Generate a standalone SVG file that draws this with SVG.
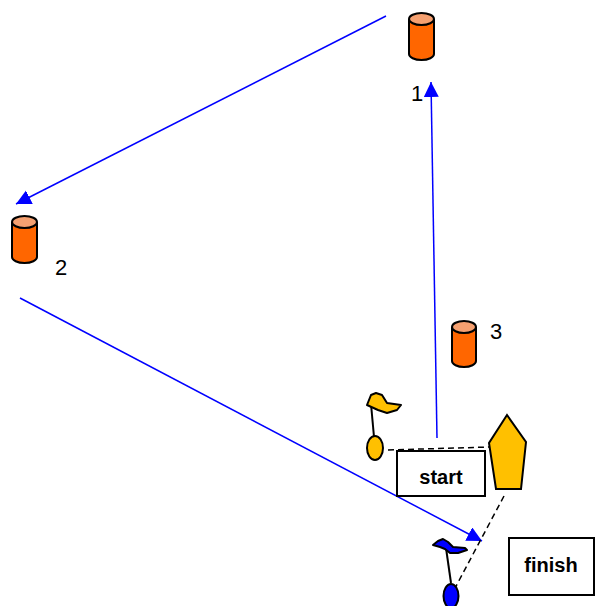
<svg xmlns="http://www.w3.org/2000/svg" width="596" height="606" viewBox="0 0 596 606">
<defs>
<style>
.cyl{fill:#FF6600;stroke:#000;stroke-width:2}
.cyltop{fill:#F5A070;stroke:#000;stroke-width:2}
.lbl{font-family:"Liberation Sans",Arial,sans-serif;font-size:22px;fill:#000}
.btxt{font-family:"Liberation Sans",Arial,sans-serif;font-size:20px;font-weight:bold;fill:#000;text-anchor:middle}
.box{fill:#fff;stroke:#000;stroke-width:2}
.route{stroke:#0000FF;stroke-width:1.5;fill:none;marker-end:url(#ah)}
.dash{stroke:#000;stroke-width:1.5;stroke-dasharray:6,4;fill:none}
.pole{stroke:#000;stroke-width:2;fill:none}
</style>
<marker id="ah" markerUnits="userSpaceOnUse" markerWidth="16" markerHeight="16" refX="15" refY="7.5" orient="auto">
<path d="M0,0 L15,7.5 L0,15 z" fill="#0000FF"/>
</marker>
</defs>
<rect width="596" height="606" fill="#fff"/>
<g id="connectors">
<line class="route" x1="437" y1="438" x2="431" y2="82"/>
<line class="route" x1="386" y1="16" x2="16" y2="204"/>
<line class="route" x1="20" y1="298" x2="482" y2="541"/>
<line class="dash" x1="388" y1="450" x2="490" y2="447"/>
<line class="dash" x1="504" y1="496" x2="454" y2="590"/>
</g>
<g id="mark1">
<path class="cyl" d="M409,19 V54 A12.5,6 0 0 0 434,54 V19"/>
<ellipse class="cyltop" cx="421.5" cy="19" rx="12.5" ry="6"/>
<text class="lbl" x="411" y="101">1</text>
</g>
<g id="mark2">
<path class="cyl" d="M12,222 V257 A12.5,6 0 0 0 37,257 V222"/>
<ellipse class="cyltop" cx="24.5" cy="222" rx="12.5" ry="6"/>
<text class="lbl" x="55" y="275">2</text>
</g>
<g id="mark3">
<path class="cyl" d="M452,327 V361 A12,6 0 0 0 476,361 V327"/>
<ellipse class="cyltop" cx="464" cy="327" rx="12" ry="6"/>
<text class="lbl" x="490" y="339">3</text>
</g>
<g id="startflag">
<line class="pole" x1="371" y1="404" x2="374" y2="437"/>
<path d="M367,405 L371,395 L376,393 L382,395 L387,403 L401,405 L397,410 L387,413 L378,410 Z" fill="#FFC000" stroke="#000" stroke-width="2" stroke-linejoin="round"/>
<ellipse cx="375" cy="448" rx="8" ry="12" fill="#FFC000" stroke="#000" stroke-width="2"/>
</g>
<g id="startboat">
<polygon points="507,415 526,442 521,489 496,489 489,443" fill="#FFC000" stroke="#000" stroke-width="2"/>
</g>
<g id="startlabel">
<rect class="box" x="397" y="451" width="88" height="45"/>
<text class="btxt" x="441" y="484">start</text>
</g>
<g id="finishflag">
<line class="pole" x1="446" y1="548" x2="451" y2="583"/>
<path d="M433,545 L438,541 L443,539 L448,542 L453,547 L465,548 L467,550 L458,553 L450,553 L445,549 L440,547 Z" fill="#0000FF" stroke="#000" stroke-width="2" stroke-linejoin="round"/>
<ellipse cx="451" cy="596" rx="7.5" ry="12" fill="#0000FF" stroke="#000" stroke-width="2"/>
</g>
<g id="finishlabel">
<rect class="box" x="509" y="538" width="85" height="57"/>
<text class="btxt" x="551" y="572">finish</text>
</g>
</svg>
